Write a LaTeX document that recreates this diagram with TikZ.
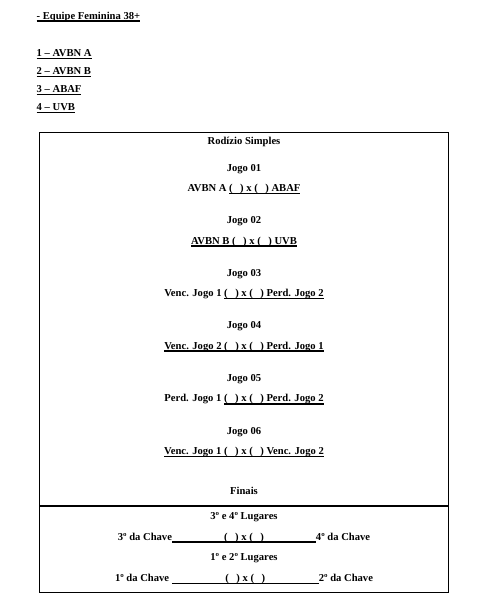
\documentclass[tikz,border=0pt]{standalone}
\usepackage{fontspec}
\setmainfont{Liberation Serif}
\newsavebox\caixaul
\newcommand\sublinha[1]{\sbox\caixaul{#1}\rlap{\rule[-2.6pt]{\wd\caixaul}{1.6pt}}\usebox\caixaul}
\newcommand\vaga{(\hspace{7.5pt})}
\tikzset{
  texto/.style={anchor=base, inner sep=0pt, font=\bfseries\fontsize{10.6}{12.7}\selectfont},
  lista/.style={texto, anchor=base west},
  moldura/.style={line width=1.2pt}
}

\begin{document}
\begin{tikzpicture}[x=1pt, y=-1pt]
    \useasboundingbox (0,0) rectangle (486,614);
    % cabecalho
    \node[lista] (equipe) at (36.5,19.3) {\sublinha{- Equipe Feminina 38+}};
    \foreach \i/\t [count=\k from 0] in {1/AVBN A,2/AVBN B,3/ABAF,4/UVB}
      \node[lista] (time\i) at (36.5,{56.7+18*\k}) {\sublinha{\i\ – \t}};
    % quadro
    \coordinate (cantoA) at (39.3,132.3);
    \coordinate (cantoB) at (448.7,592.7);
    \draw[moldura] (cantoA) rectangle (cantoB);
    \draw[moldura] (cantoA |- 0,506) -- (cantoB |- 0,506);
    \node[texto] (rodizio) at (244,144.5) {Rodízio Simples};
    \foreach \n/\partida [count=\k from 0] in {
        01/{AVBN A \sublinha{\vaga{} x \vaga{} ABAF}},
        02/{\sublinha{AVBN B \vaga{} x \vaga{} UVB}},
        03/{Venc. Jogo 1 \sublinha{\vaga{} x \vaga{} Perd. Jogo 2}},
        04/{\sublinha{Venc. Jogo 2 \vaga{} x \vaga{} Perd. Jogo 1}},
        05/{Perd. Jogo 1 \sublinha{\vaga{} x \vaga{} Perd. Jogo 2}},
        06/{\sublinha{Venc. Jogo 1 \vaga{} x \vaga{} Venc. Jogo 2}}}
    {
      \node[texto] (jogo\n) at (244,{171+52.6*\k}) {Jogo \n};
      \node[texto] (partida\n) at (244,{191.5+52.6*\k}) {\partida};
    }
    % finais
    \node[texto] (finais) at (244,494) {Finais};
    \node[texto] (lugar34) at (244,519.5) {3º e 4º Lugares};
    \node[texto] (final34) at (244,540)
      {3º da Chave\sublinha{\makebox[144pt]{\vaga{} x \vaga}}4º da Chave};
    \node[texto] (lugar12) at (244,560.7) {1º e 2º Lugares};
    \node[texto] (final12) at (244,581.5)
      {1º da Chave \sublinha{\makebox[147pt]{\vaga{} x \vaga}}2º da Chave};
  \end{tikzpicture}
\end{document}
